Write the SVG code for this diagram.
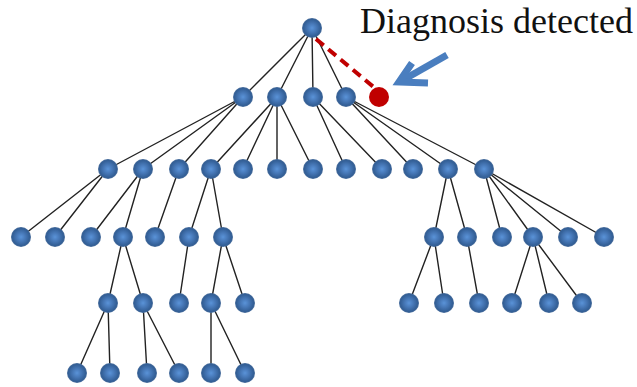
<svg xmlns="http://www.w3.org/2000/svg" width="637" height="387" viewBox="0 0 637 387">
  <style>
    .edge { stroke: #222; stroke-width: 1.4; fill: none; }
    .node { fill: url(#ball); }
    .hit { fill: #C00000; }
    .label { font-family: "Liberation Serif", "Times New Roman", serif; font-size: 36px; fill: #111; }
  </style>
  <defs>
    <radialGradient id="ball" cx="50%" cy="50%" r="50%">
      <stop offset="0" stop-color="#5A93D8"/>
      <stop offset="0.45" stop-color="#4677B6"/>
      <stop offset="0.85" stop-color="#335F96"/>
      <stop offset="1" stop-color="#4A6E9C"/>
    </radialGradient>
    <circle id="n" r="10" class="node"/>
  </defs>

  <!-- tree edges -->
  <g id="connectors">
    <!-- root to level 1 -->
    <path class="edge" d="M312,28 L243,97 M312,28 L277,97 M312,28 L313,97 M312,28 L346,97"/>
    <!-- level 1 to level 2 -->
    <path class="edge" d="M243,97 L108,169 M243,97 L143,169 M243,97 L179,169
      M277,97 L211,169 M277,97 L243,169 M277,97 L277,169 M277,97 L313,169
      M313,97 L346,169 M313,97 L382,169
      M346,97 L413,169 M346,97 L448,169 M346,97 L484,169"/>
    <!-- level 2 to level 3 -->
    <path class="edge" d="M108,169 L21,237 M108,169 L55,237
      M143,169 L91,237 M143,169 L123,237
      M179,169 L155,237
      M211,169 L189,237 M211,169 L223,237
      M448,169 L434,237 M448,169 L467,237
      M484,169 L502,237 M484,169 L533,237 M484,169 L568,237 M484,169 L604,237"/>
    <!-- level 3 to level 4 -->
    <path class="edge" d="M123,237 L108,303 M123,237 L143,303
      M189,237 L179,303
      M223,237 L211,303 M223,237 L245,303
      M434,237 L409,303 M434,237 L444,303
      M467,237 L479,303
      M533,237 L512,303 M533,237 L549,303 M533,237 L582,303"/>
    <!-- level 4 to level 5 -->
    <path class="edge" d="M108,303 L77,373 M108,303 L110,373
      M143,303 L147,373 M143,303 L179,373
      M211,303 L211,373 M211,303 L245,373"/>
    <!-- detected branch -->
    <path d="M316,39 L376,89" stroke="#C00000" stroke-width="4" stroke-dasharray="10 6" fill="none"/>
  </g>

  <!-- root -->
  <g id="root"><use href="#n" x="312" y="28"/></g>

  <!-- level 1 -->
  <g id="a1"><use href="#n" x="243" y="97"/></g>
  <g id="a2"><use href="#n" x="277" y="97"/></g>
  <g id="a3"><use href="#n" x="313" y="97"/></g>
  <g id="a4"><use href="#n" x="346" y="97"/></g>
  <g id="detected"><circle class="hit" cx="379" cy="97" r="10"/></g>

  <!-- level 2 -->
  <g id="b1"><use href="#n" x="108" y="169"/></g>
  <g id="b2"><use href="#n" x="143" y="169"/></g>
  <g id="b3"><use href="#n" x="179" y="169"/></g>
  <g id="b4"><use href="#n" x="211" y="169"/></g>
  <g id="b5"><use href="#n" x="243" y="169"/></g>
  <g id="b6"><use href="#n" x="277" y="169"/></g>
  <g id="b7"><use href="#n" x="313" y="169"/></g>
  <g id="b8"><use href="#n" x="346" y="169"/></g>
  <g id="b9"><use href="#n" x="382" y="169"/></g>
  <g id="b10"><use href="#n" x="413" y="169"/></g>
  <g id="b11"><use href="#n" x="448" y="169"/></g>
  <g id="b12"><use href="#n" x="484" y="169"/></g>

  <!-- level 3 -->
  <g id="c1"><use href="#n" x="21" y="237"/></g>
  <g id="c2"><use href="#n" x="55" y="237"/></g>
  <g id="c3"><use href="#n" x="91" y="237"/></g>
  <g id="c4"><use href="#n" x="123" y="237"/></g>
  <g id="c5"><use href="#n" x="155" y="237"/></g>
  <g id="c6"><use href="#n" x="189" y="237"/></g>
  <g id="c7"><use href="#n" x="223" y="237"/></g>
  <g id="c8"><use href="#n" x="434" y="237"/></g>
  <g id="c9"><use href="#n" x="467" y="237"/></g>
  <g id="c10"><use href="#n" x="502" y="237"/></g>
  <g id="c11"><use href="#n" x="533" y="237"/></g>
  <g id="c12"><use href="#n" x="568" y="237"/></g>
  <g id="c13"><use href="#n" x="604" y="237"/></g>

  <!-- level 4 -->
  <g id="d1"><use href="#n" x="108" y="303"/></g>
  <g id="d2"><use href="#n" x="143" y="303"/></g>
  <g id="d3"><use href="#n" x="179" y="303"/></g>
  <g id="d4"><use href="#n" x="211" y="303"/></g>
  <g id="d5"><use href="#n" x="245" y="303"/></g>
  <g id="d6"><use href="#n" x="409" y="303"/></g>
  <g id="d7"><use href="#n" x="444" y="303"/></g>
  <g id="d8"><use href="#n" x="479" y="303"/></g>
  <g id="d9"><use href="#n" x="512" y="303"/></g>
  <g id="d10"><use href="#n" x="549" y="303"/></g>
  <g id="d11"><use href="#n" x="582" y="303"/></g>

  <!-- level 5 -->
  <g id="e1"><use href="#n" x="77" y="373"/></g>
  <g id="e2"><use href="#n" x="110" y="373"/></g>
  <g id="e3"><use href="#n" x="147" y="373"/></g>
  <g id="e4"><use href="#n" x="179" y="373"/></g>
  <g id="e5"><use href="#n" x="211" y="373"/></g>
  <g id="e6"><use href="#n" x="245" y="373"/></g>

  <!-- callout -->
  <g id="callout">
    <text class="label" x="360" y="33">Diagnosis detected</text>
    <g stroke="#4A7EBF" stroke-width="7" fill="none">
      <path d="M447,55 L403,80"/>
      <path d="M412,63 L399,82 L428,83" stroke-linejoin="miter"/>
    </g>
  </g>
</svg>
